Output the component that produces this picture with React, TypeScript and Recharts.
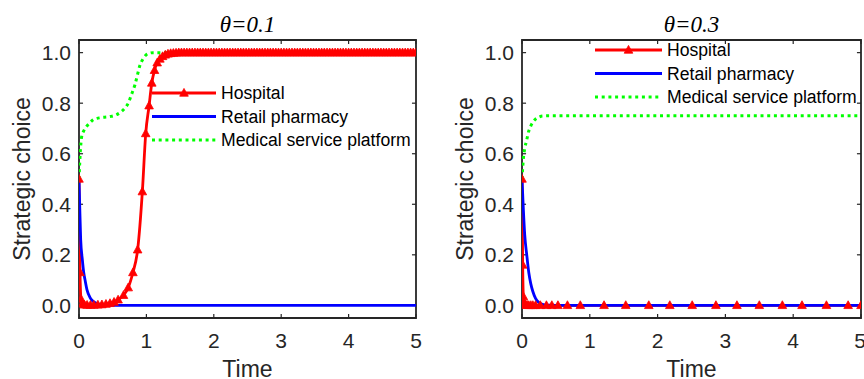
import React from 'react';
import { LineChart, Line, XAxis, YAxis, Legend, ReferenceArea, ReferenceLine } from 'recharts';

// ---------- data ----------
const xTicks = [0, 1, 2, 3, 4, 5];
const yTicks = [0, 0.2, 0.4, 0.6, 0.8, 1.0];
const seriesNames = ['Hospital', 'Retail pharmacy', 'Medical service platform'];
const panelTitles = ['θ=0.1', 'θ=0.3'];
const axisLabels = { x: 'Time', y: 'Strategic choice' };
const xDomain: [number, number] = [0, 5];
const yDomain: [number, number] = [-0.05, 1.05];

// θ = 0.1
const hospitalTime1 = [
  0, 0.015, 0.03, 0.05, 0.08, 0.12, 0.17, 0.22, 0.28, 0.34,
  0.40, 0.46, 0.52, 0.58, 0.66, 0.73, 0.80, 0.87, 0.94, 0.99,
  1.04, 1.08, 1.12, 1.16, 1.20, 1.24, 1.28, 1.32, 1.36, 1.40,
  1.44, 1.48, 1.52, 1.56, 1.60, 1.64, 1.68, 1.72, 1.76, 1.80,
  1.84, 1.88, 1.92, 1.96, 2.00, 2.04, 2.08, 2.12, 2.16, 2.20,
  2.24, 2.28, 2.32, 2.36, 2.40, 2.44, 2.48, 2.52, 2.56, 2.60,
  2.64, 2.68, 2.72, 2.76, 2.80, 2.84, 2.88, 2.92, 2.96, 3.00,
  3.04, 3.08, 3.12, 3.16, 3.20, 3.24, 3.28, 3.32, 3.36, 3.40,
  3.44, 3.48, 3.52, 3.56, 3.60, 3.64, 3.68, 3.72, 3.76, 3.80,
  3.84, 3.88, 3.92, 3.96, 4.00, 4.04, 4.08, 4.12, 4.16, 4.20,
  4.24, 4.28, 4.32, 4.36, 4.40, 4.44, 4.48, 4.52, 4.56, 4.60,
  4.64, 4.68, 4.72, 4.76, 4.80, 4.84, 4.88, 4.92, 4.96, 5.00,
];
const hospitalValue1 = [
  0.5, 0.13, 0.025, 0.006, 0.002, 0.001, 0.001, 0.001, 0.002, 0.003,
  0.005, 0.008, 0.013, 0.022, 0.04, 0.07, 0.13, 0.22, 0.45, 0.68,
  0.79, 0.88, 0.93, 0.96, 0.975, 0.985, 0.991, 0.995, 0.997, 0.998,
  0.999, 1, 1, 1, 1, 1, 1, 1, 1, 1,
  1, 1, 1, 1, 1, 1, 1, 1, 1, 1,
  1, 1, 1, 1, 1, 1, 1, 1, 1, 1,
  1, 1, 1, 1, 1, 1, 1, 1, 1, 1,
  1, 1, 1, 1, 1, 1, 1, 1, 1, 1,
  1, 1, 1, 1, 1, 1, 1, 1, 1, 1,
  1, 1, 1, 1, 1, 1, 1, 1, 1, 1,
  1, 1, 1, 1, 1, 1, 1, 1, 1, 1,
  1, 1, 1, 1, 1, 1, 1, 1, 1, 1,
];
const pharmacyTime1 = [0, 0.01, 0.025, 0.05, 0.07, 0.09, 0.12, 0.16, 0.2, 0.26, 0.32, 0.4, 0.5, 5];
const pharmacyValue1 = [0.5, 0.4, 0.26, 0.18, 0.13, 0.1, 0.06, 0.033, 0.018, 0.008, 0.003, 0.001, 0, 0];
const platformTime1 = [0, 0.01, 0.02, 0.04, 0.07, 0.11, 0.16, 0.21, 0.3, 0.46, 0.56, 0.63, 0.68, 0.73, 0.78, 0.83, 0.87, 0.9, 0.95, 1.0, 1.05, 1.1, 5];
const platformValue1 = [0.5, 0.56, 0.61, 0.668, 0.69, 0.707, 0.722, 0.734, 0.742, 0.747, 0.755, 0.767, 0.78, 0.8, 0.835, 0.873, 0.915, 0.946, 0.975, 0.992, 0.998, 1.0, 1.0];

// θ = 0.3
const hospitalTime2 = [0, 0.01, 0.02, 0.03, 0.045, 0.06, 0.08, 0.1, 0.13, 0.16, 0.2, 0.27, 0.36, 0.44, 0.53, 0.67, 0.86, 1.21, 1.53, 1.87, 2.18, 2.51, 2.86, 3.17, 3.5, 3.84, 4.13, 4.49, 4.81, 5.0];
const hospitalValue2 = [0.5, 0.16, 0.035, 0.01, 0.003, 0.001, 0.0005, 0, 0, 0, 0, 0, 0, 0, 0, 0, 0, 0, 0, 0, 0, 0, 0, 0, 0, 0, 0, 0, 0, 0];
const pharmacyTime2 = [0, 0.01, 0.02, 0.04, 0.07, 0.1, 0.13, 0.16, 0.2, 0.24, 0.28, 0.33, 0.4, 0.5, 5];
const pharmacyValue2 = [0.5, 0.44, 0.38, 0.28, 0.2, 0.13, 0.085, 0.055, 0.028, 0.013, 0.006, 0.002, 0.0005, 0, 0];
const platformTime2 = [0, 0.02, 0.04, 0.07, 0.1, 0.13, 0.16, 0.2, 0.25, 0.3, 0.4, 5];
const platformValue2 = [0.5, 0.58, 0.62, 0.655, 0.69, 0.71, 0.725, 0.737, 0.745, 0.749, 0.75, 0.75];

// ---------- helpers ----------
const toPoints = (ts: number[], vs: number[]) => ts.map((t, i) => ({ t, v: vs[i] }));

const FONT = "'Liberation Sans', Arial, Helvetica, sans-serif";
const INK = '#262626';
const RED = '#ff0000';
const BLUE = '#0000ff';
const GREEN = '#00ff00';
const LW = 2.8;
const GREEN_DASH = '3 3.7';
// inward tick length expressed in data units (≈4px)
const X_TICK_LEN = 0.06;
const Y_TICK_LEN = 0.016;

const W = 432;
const H = 379;
const PLOT_TOP = 40;
const PLOT_BOTTOM = 318;
const Y_AXIS_W = 50;

const triPath = (cx: number, cy: number) =>
  `M${cx},${cy - 4.6} L${cx + 4.3},${cy + 3.2} L${cx - 4.3},${cy + 3.2} Z`;

const TriangleDot = (props: any) => {
  const { cx, cy, index } = props;
  if (cx == null || cy == null) return <g key={`e-${index}`} />;
  return <path key={`tri-${index}`} d={triPath(cx, cy)} fill={RED} stroke={RED} strokeWidth={0.8} />;
};

const LegendContent = ({ lineLen }: { lineLen: number }) => {
  const rowGap = 23.5;
  const styles = [
    { color: RED, dash: undefined, marker: true },
    { color: BLUE, dash: undefined, marker: false },
    { color: GREEN, dash: GREEN_DASH, marker: false },
  ];
  return (
    <svg width={280} height={80} style={{ overflow: 'visible', display: 'block' }}>
      {styles.map((s, i) => {
        const y = 10 + i * rowGap;
        return (
          <g key={i}>
            <line x1={0} x2={lineLen} y1={y} y2={y} stroke={s.color} strokeWidth={s.dash ? 3 : LW} strokeDasharray={s.dash} />
            {s.marker && <path d={triPath(lineLen / 2, y)} fill={RED} stroke={RED} strokeWidth={0.8} />}
            <text x={lineLen + 5} y={y} dy="0.36em" fontFamily={FONT} fontSize={17.6} fill="#000">
              {seriesNames[i]}
            </text>
          </g>
        );
      })}
    </svg>
  );
};

type PanelProps = {
  title: string;
  hospital: { t: number; v: number }[];
  pharmacy: { t: number; v: number }[];
  platform: { t: number; v: number }[];
  marginLeft: number;
  marginRight: number;
  legendLeft: number;
  legendTop: number;
  legendLineLen: number;
};

const Panel = (p: PanelProps) => {
  const plotLeft = p.marginLeft + Y_AXIS_W;

  const XTick = (tp: any) => (
    <text
      x={tp.x}
      y={PLOT_BOTTOM + 30}
      textAnchor="middle"
      fontFamily={FONT}
      fontSize={21}
      fill={INK}
    >
      {String(tp.payload.value)}
    </text>
  );
  const YTick = (tp: any) => (
    <text
      x={plotLeft - 8}
      y={tp.y}
      dy="0.36em"
      textAnchor="end"
      fontFamily={FONT}
      fontSize={21}
      fill={INK}
    >
      {Number(tp.payload.value).toFixed(1)}
    </text>
  );

  return (
    <LineChart
      width={W}
      height={H}
      margin={{ top: PLOT_TOP - 1, right: p.marginRight, bottom: H - PLOT_BOTTOM - 30, left: p.marginLeft }}
    >
      <XAxis
        xAxisId="top"
        orientation="top"
        type="number"
        dataKey="t"
        domain={xDomain}
        ticks={xTicks}
        height={1}
        tick={false}
        tickLine={false}
        axisLine={false}
        allowDataOverflow
        label={{
          content: (lp: any) => {
            const vb = lp.viewBox || {};
            return (
              <text
                x={vb.x + vb.width / 2}
                y={PLOT_TOP - 8}
                textAnchor="middle"
                fontFamily="'Liberation Serif', 'Times New Roman', serif"
                fontStyle="italic"
                fontSize={23}
                fill="#000"
              >
                {p.title}
              </text>
            );
          },
        }}
      />
      <XAxis
        type="number"
        dataKey="t"
        domain={xDomain}
        ticks={xTicks}
        height={30}
        tickLine={false}
        axisLine={false}
        tick={XTick}
        allowDataOverflow
        label={{
          content: (lp: any) => {
            const vb = lp.viewBox || {};
            return (
              <text x={vb.x + vb.width / 2} y={PLOT_BOTTOM + 59} textAnchor="middle" fontFamily={FONT} fontSize={23} fill={INK}>
                {axisLabels.x}
              </text>
            );
          },
        }}
      />
      <YAxis
        type="number"
        domain={yDomain}
        ticks={yTicks}
        width={Y_AXIS_W}
        tickLine={false}
        axisLine={false}
        tick={YTick}
        allowDataOverflow
        label={{
          content: () => {
            const cx = plotLeft - 57;
            const cy = (PLOT_TOP + PLOT_BOTTOM) / 2;
            return (
              <text
                x={cx}
                y={cy}
                dy="0.36em"
                textAnchor="middle"
                transform={`rotate(-90, ${cx}, ${cy})`}
                fontFamily={FONT}
                fontSize={23}
                fill={INK}
              >
                {axisLabels.y}
              </text>
            );
          },
        }}
      />
      <YAxis
        yAxisId="right"
        orientation="right"
        type="number"
        domain={yDomain}
        ticks={yTicks}
        width={1}
        tick={false}
        tickLine={false}
        axisLine={false}
        allowDataOverflow
      />
      {/* inward tick marks on all four sides */}
      {xTicks.map((t) => (
        <ReferenceLine
          key={`xb-${t}`}
          segment={[{ x: t, y: yDomain[0] }, { x: t, y: yDomain[0] + Y_TICK_LEN }]}
          stroke={INK}
          strokeWidth={1.2}
          ifOverflow="visible"
        />
      ))}
      {xTicks.map((t) => (
        <ReferenceLine
          key={`xt-${t}`}
          segment={[{ x: t, y: yDomain[1] }, { x: t, y: yDomain[1] - Y_TICK_LEN }]}
          stroke={INK}
          strokeWidth={1.2}
          ifOverflow="visible"
        />
      ))}
      {yTicks.map((v) => (
        <ReferenceLine
          key={`yl-${v}`}
          segment={[{ x: xDomain[0], y: v }, { x: xDomain[0] + X_TICK_LEN, y: v }]}
          stroke={INK}
          strokeWidth={1.2}
          ifOverflow="visible"
        />
      ))}
      {yTicks.map((v) => (
        <ReferenceLine
          key={`yr-${v}`}
          segment={[{ x: xDomain[1], y: v }, { x: xDomain[1] - X_TICK_LEN, y: v }]}
          stroke={INK}
          strokeWidth={1.2}
          ifOverflow="visible"
        />
      ))}
      {/* plot frame */}
      <ReferenceArea
        x1={xDomain[0]}
        x2={xDomain[1]}
        y1={yDomain[0]}
        y2={yDomain[1]}
        fill="none"
        fillOpacity={0}
        stroke={INK}
        strokeWidth={1.8}
        ifOverflow="visible"
      />
      <Line
        data={p.hospital}
        dataKey="v"
        type="monotone"
        stroke={RED}
        strokeWidth={LW}
        dot={TriangleDot}
        activeDot={false}
        isAnimationActive={false}
        name={seriesNames[0]}
      />
      <Line
        data={p.pharmacy}
        dataKey="v"
        type="monotone"
        stroke={BLUE}
        strokeWidth={LW}
        dot={false}
        activeDot={false}
        isAnimationActive={false}
        name={seriesNames[1]}
      />
      <Line
        data={p.platform}
        dataKey="v"
        type="monotone"
        stroke={GREEN}
        strokeWidth={3}
        strokeDasharray={GREEN_DASH}
        dot={false}
        activeDot={false}
        isAnimationActive={false}
        name={seriesNames[2]}
      />
      <Legend
        layout="horizontal"
        verticalAlign="middle"
        align="center"
        content={() => <LegendContent lineLen={p.legendLineLen} />}
        wrapperStyle={{ position: 'absolute', left: p.legendLeft, top: p.legendTop, width: 280, height: 80 }}
      />
    </LineChart>
  );
};

export default function App() {
  return (
    <div style={{ position: 'absolute', left: 0, top: 0, width: 864, height: 379, background: '#fff', overflow: 'hidden' }}>
      <div style={{ position: 'absolute', left: 0, top: 0 }}>
        <Panel
          title={panelTitles[0]}
          hospital={toPoints(hospitalTime1, hospitalValue1)}
          pharmacy={toPoints(pharmacyTime1, pharmacyValue1)}
          platform={toPoints(platformTime1, platformValue1)}
          marginLeft={29}
          marginRight={15}
          legendLeft={152}
          legendTop={83}
          legendLineLen={64}
        />
      </div>
      <div style={{ position: 'absolute', left: 432, top: 0 }}>
        <Panel
          title={panelTitles[1]}
          hospital={toPoints(hospitalTime2, hospitalValue2)}
          pharmacy={toPoints(pharmacyTime2, pharmacyValue2)}
          platform={toPoints(platformTime2, platformValue2)}
          marginLeft={40}
          marginRight={2}
          legendLeft={163}
          legendTop={40}
          legendLineLen={67}
        />
      </div>
    </div>
  );
}
